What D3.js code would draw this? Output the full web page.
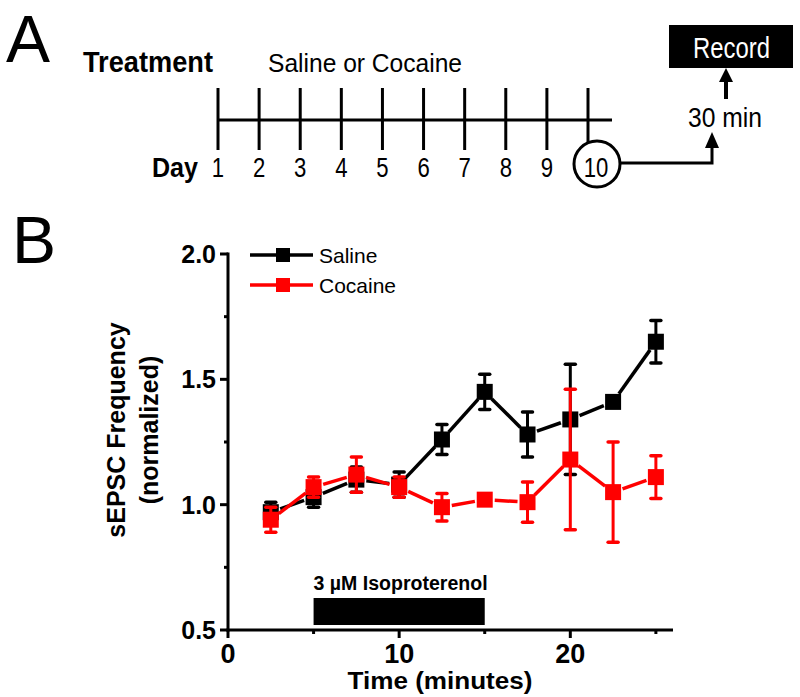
<!DOCTYPE html>
<html><head><meta charset="utf-8">
<script src="https://cdn.jsdelivr.net/npm/d3@7"></script>
<style>body{margin:0;background:#fff}svg{display:block}text{font-family:Arial,"Liberation Sans",sans-serif}</style>
</head><body>
<svg id="c" width="800" height="697"></svg>
<script>
// ---- data ----
const times = [2.5, 5, 7.5, 10, 12.5, 15, 17.5, 20, 22.5, 25];
const salineMean = [0.97, 1.03, 1.10, 1.08, 1.26, 1.45, 1.28, 1.34, 1.41, 1.65];
const salineErr  = [0.04, 0.04, 0.05, 0.05, 0.06, 0.07, 0.09, 0.22, 0.02, 0.085];
const cocaineMean = [0.94, 1.07, 1.12, 1.07, 0.99, 1.02, 1.01, 1.18, 1.05, 1.11];
const cocaineErr  = [0.05, 0.04, 0.07, 0.04, 0.055, 0.015, 0.08, 0.28, 0.20, 0.085];
const xTicks = [0, 10, 20];
const xMinor = [5, 15, 25];
const yTicks = [0.5, 1.0, 1.5, 2.0];
const yMinor = [0.75, 1.25, 1.75];
const drugWindow = [5, 15];
const days = [1,2,3,4,5,6,7,8,9,10];
const seriesNames = ["Saline", "Cocaine"];
const seriesColors = ["#000000", "#ff0000"];

const svg = d3.select("#c");

// narrow text helper (condensed look)
function narrow(xp, yp, size, str, opts = {}) {
  const t = svg.append("text")
    .attr("transform", `translate(${xp},${yp}) scale(${opts.sx || 0.82},1)`)
    .attr("font-size", size).text(str);
  if (opts.bold) t.attr("font-weight", "bold");
  if (opts.anchor) t.attr("text-anchor", opts.anchor);
  if (opts.fill) t.attr("fill", opts.fill);
  return t;
}

// ---- Panel A ----
svg.append("text").attr("x", 6).attr("y", 62).attr("font-size", 66).text("A");
svg.append("text").attr("x", 83).attr("y", 72).attr("font-size", 30).attr("font-weight", "bold")
  .attr("textLength", 130).attr("lengthAdjust", "spacingAndGlyphs").text("Treatment");
svg.append("text").attr("x", 268).attr("y", 72).attr("font-size", 26)
  .attr("textLength", 194).attr("lengthAdjust", "spacingAndGlyphs").text("Saline or Cocaine");

const dx = d3.scaleLinear().domain([1, 10]).range([218, 588]);
const tl = svg.append("g").attr("stroke", "#000").attr("stroke-width", 3);
tl.append("line").attr("x1", dx(1)).attr("x2", 612).attr("y1", 120).attr("y2", 120);
days.forEach(d => {
  tl.append("line").attr("x1", dx(d)).attr("x2", dx(d)).attr("y1", 88).attr("y2", d === 10 ? 142 : 150);
});
svg.append("text").attr("x", 152).attr("y", 177).attr("font-size", 28).attr("font-weight", "bold")
  .attr("textLength", 46).attr("lengthAdjust", "spacingAndGlyphs").text("Day");
days.forEach(d => narrow(d === 10 ? 596 : dx(d), 177, 27, d, {anchor: "middle"}));
svg.append("circle").attr("cx", 597).attr("cy", 164).attr("r", 23)
  .attr("fill", "none").attr("stroke", "#000").attr("stroke-width", 3);
svg.append("path").attr("d", "M620,163 H712 V146").attr("fill", "none")
  .attr("stroke", "#000").attr("stroke-width", 3);
svg.append("path").attr("d", "M705,148 L712,132 L719,148 Z").attr("fill", "#000");
svg.append("text").attr("x", 688).attr("y", 127).attr("font-size", 27)
  .attr("textLength", 74).attr("lengthAdjust", "spacingAndGlyphs").text("30 min");
svg.append("line").attr("x1", 726).attr("x2", 726).attr("y1", 99).attr("y2", 80)
  .attr("stroke", "#000").attr("stroke-width", 4);
svg.append("path").attr("d", "M719,82 L726,68 L733,82 Z").attr("fill", "#000");
svg.append("rect").attr("x", 669).attr("y", 25).attr("width", 124).attr("height", 43).attr("fill", "#000");
svg.append("text").attr("x", 693).attr("y", 58).attr("font-size", 29).attr("fill", "#fff")
  .attr("textLength", 77).attr("lengthAdjust", "spacingAndGlyphs").text("Record");

// ---- Panel B ----
svg.append("text").attr("x", 12).attr("y", 263).attr("font-size", 66).text("B");

const x = d3.scaleLinear().domain([0, 26]).range([228, 673]);
const y = d3.scaleLinear().domain([0.5, 2.0]).range([630, 254]);

// axes
const ax = svg.append("g").attr("stroke", "#000").attr("stroke-width", 3);
ax.append("line").attr("x1", x(0)).attr("x2", x(0)).attr("y1", y(2.0) - 1.5).attr("y2", y(0.5) + 1.5);
ax.append("line").attr("x1", x(0) - 1.5).attr("x2", x(26)).attr("y1", y(0.5)).attr("y2", y(0.5));
yTicks.forEach(v => ax.append("line").attr("x1", x(0) - 8).attr("x2", x(0)).attr("y1", y(v)).attr("y2", y(v)));
yMinor.forEach(v => ax.append("line").attr("x1", x(0) - 4).attr("x2", x(0)).attr("y1", y(v)).attr("y2", y(v)));
xTicks.forEach(v => ax.append("line").attr("x1", x(v)).attr("x2", x(v)).attr("y1", y(0.5)).attr("y2", y(0.5) + 8));
xMinor.forEach(v => ax.append("line").attr("x1", x(v)).attr("x2", x(v)).attr("y1", y(0.5)).attr("y2", y(0.5) + 4));

yTicks.forEach(v => svg.append("text").attr("x", 216).attr("y", y(v) + 9).attr("font-size", 25)
  .attr("font-weight", "bold").attr("text-anchor", "end").text(v.toFixed(1)));
xTicks.forEach(v => svg.append("text").attr("x", x(v)).attr("y", 663).attr("font-size", 27)
  .attr("font-weight", "bold").attr("text-anchor", "middle").text(v));
svg.append("text").attr("x", 440).attr("y", 689).attr("font-size", 23).attr("font-weight", "bold")
  .attr("text-anchor", "middle").attr("textLength", 185).attr("lengthAdjust", "spacingAndGlyphs")
  .text("Time (minutes)");
const yt = svg.append("g").attr("transform", "translate(0,430) rotate(-90)");
yt.append("text").attr("x", 0).attr("y", 125).attr("font-size", 25).attr("font-weight", "bold")
  .attr("text-anchor", "middle").text("sEPSC Frequency");
yt.append("text").attr("x", 0).attr("y", 158).attr("font-size", 25).attr("font-weight", "bold")
  .attr("text-anchor", "middle").text("(normalized)");

// drug bar
svg.append("rect").attr("x", x(drugWindow[0])).attr("y", 598).attr("width", x(drugWindow[1]) - x(drugWindow[0]))
  .attr("height", 27).attr("fill", "#000");
svg.append("text").attr("x", x(drugWindow[0])).attr("y", 590).attr("font-size", 20).attr("font-weight", "bold")
  .attr("textLength", 174).attr("lengthAdjust", "spacingAndGlyphs").text("3 µM Isoproterenol");

// series
function drawSeries(means, errs, color) {
  const g = svg.append("g");
  const pts = times.map((t, i) => [x(t), y(means[i])]);
  const gap = 10;
  for (let i = 0; i < pts.length - 1; i++) {
    const [x1, y1] = pts[i], [x2, y2] = pts[i + 1];
    const L = Math.hypot(x2 - x1, y2 - y1);
    if (L <= 2 * gap) continue;
    const ux = (x2 - x1) / L, uy = (y2 - y1) / L;
    g.append("line").attr("x1", x1 + ux * gap).attr("y1", y1 + uy * gap)
      .attr("x2", x2 - ux * gap).attr("y2", y2 - uy * gap)
      .attr("stroke", color).attr("stroke-width", 3.5);
  }
  times.forEach((t, i) => {
    const cx = x(t), top = y(means[i] + errs[i]), bot = y(means[i] - errs[i]);
    g.append("line").attr("x1", cx).attr("x2", cx).attr("y1", top).attr("y2", bot)
      .attr("stroke", color).attr("stroke-width", 3);
    [top, bot].forEach(yy => g.append("line").attr("x1", cx - 5).attr("x2", cx + 5)
      .attr("y1", yy).attr("y2", yy).attr("stroke", color).attr("stroke-width", 3.5)
      .attr("stroke-linecap", "round"));
  });
  g.selectAll("rect.m").data(times).enter().append("rect")
    .attr("x", t => x(t) - 8).attr("y", (t, i) => y(means[i]) - 8)
    .attr("width", 16).attr("height", 16).attr("fill", color);
}
drawSeries(salineMean, salineErr, seriesColors[0]);
drawSeries(cocaineMean, cocaineErr, seriesColors[1]);

// legend
seriesNames.forEach((n, i) => {
  const ly = 255 + i * 30;
  svg.append("line").attr("x1", 250).attr("x2", 313).attr("y1", ly).attr("y2", ly)
    .attr("stroke", seriesColors[i]).attr("stroke-width", 3.5);
  svg.append("rect").attr("x", 276).attr("y", ly - 7).attr("width", 14).attr("height", 14).attr("fill", seriesColors[i]);
  svg.append("text").attr("x", 319).attr("y", ly + 8).attr("font-size", 21).text(n);
});
</script>
</body></html>
